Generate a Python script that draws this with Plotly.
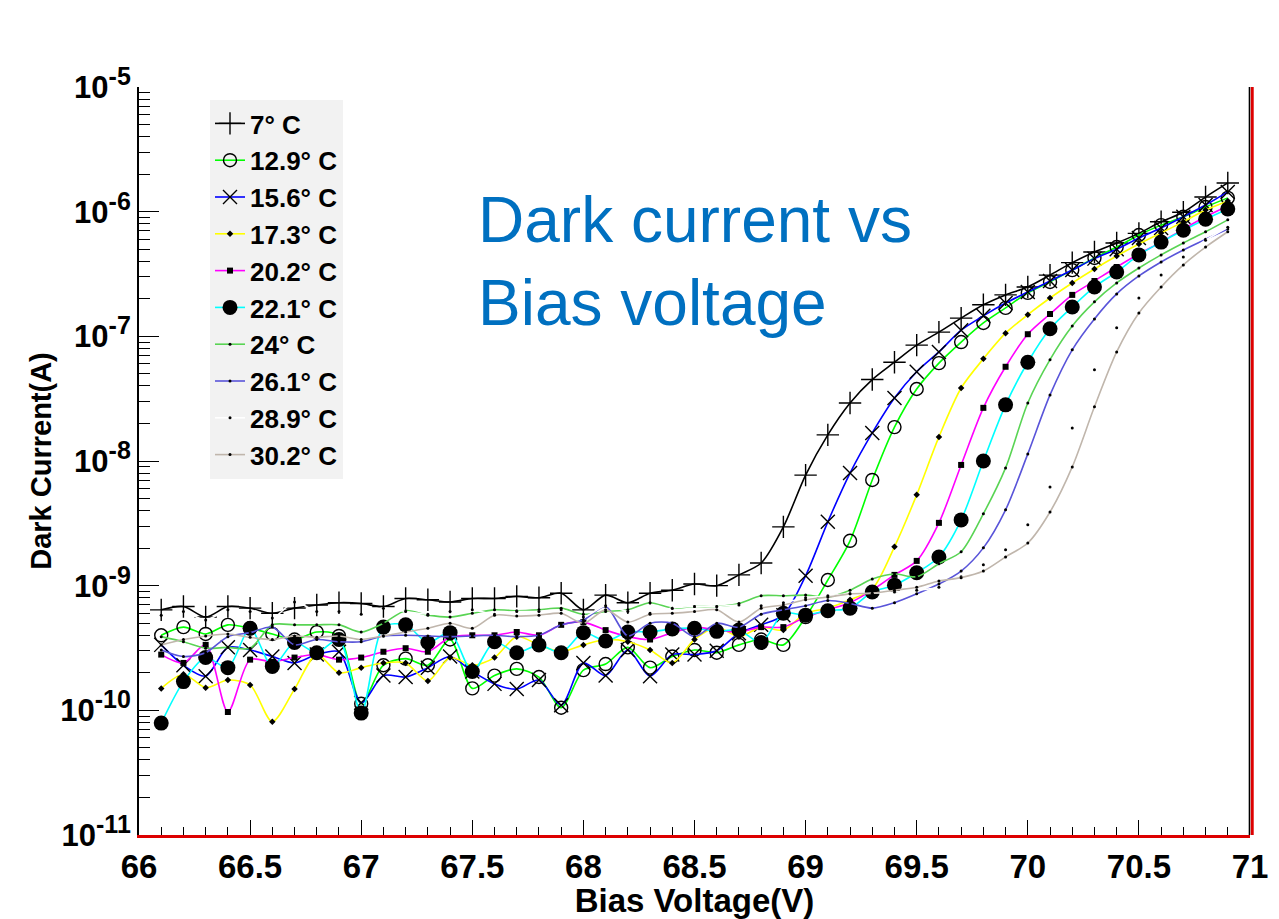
import plotly.graph_objects as go

voltage = [round(66.1 + 0.1 * i, 1) for i in range(49)]

labels = ["7° C", "12.9° C", "15.6° C", "17.3° C", "20.2° C",
          "22.1° C", "24° C", "26.1° C", "28.9° C", "30.2° C"]

i_7_0 = [6.4e-10, 6.8e-10, 5.6e-10, 6.8e-10, 6.6e-10, 6.0e-10, 6.6e-10, 7.0e-10, 7.3e-10, 7.2e-10,
         6.8e-10, 7.9e-10, 7.7e-10, 7.4e-10, 7.9e-10, 7.9e-10, 8.2e-10, 8.0e-10, 8.7e-10, 6.4e-10,
         8.4e-10, 7.3e-10, 8.7e-10, 9.2e-10, 1.03e-9, 1.0e-9, 1.22e-9, 1.52e-9, 2.96e-9, 7.7e-9,
         1.62e-8, 2.92e-8, 4.5e-8, 6.2e-8, 8.5e-8, 1.08e-7, 1.40e-7, 1.79e-7, 2.15e-7, 2.49e-7,
         3.1e-7, 3.9e-7, 4.75e-7, 5.6e-7, 6.7e-7, 8.3e-7, 9.9e-7, 1.31e-6, 1.70e-6]

i_12_9 = [4.0e-10, 4.65e-10, 4.1e-10, 4.85e-10, 4.55e-10, 4.1e-10, 3.7e-10, 4.25e-10, 3.95e-10, 1.13e-10,
          2.3e-10, 2.6e-10, 2.3e-10, 3.7e-10, 1.5e-10, 1.9e-10, 2.15e-10, 1.85e-10, 1.05e-10, 2.1e-10,
          2.35e-10, 3.2e-10, 2.2e-10, 2.7e-10, 3.05e-10, 2.9e-10, 3.35e-10, 3.7e-10, 3.35e-10, 5.6e-10,
          1.11e-9, 2.29e-9, 7.05e-9, 1.87e-8, 3.78e-8, 6.1e-8, 9.0e-8, 1.28e-7, 1.69e-7, 2.23e-7,
          2.73e-7, 3.4e-7, 4.25e-7, 5.2e-7, 6.5e-7, 7.8e-7, 9.1e-7, 1.09e-6, 1.29e-6]

i_15_6 = [3.35e-10, 2.3e-10, 1.88e-10, 3.2e-10, 3.05e-10, 2.7e-10, 2.4e-10, 2.8e-10, 2.95e-10, 1.15e-10,
          1.9e-10, 1.85e-10, 2.2e-10, 2.7e-10, 2.05e-10, 1.63e-10, 1.48e-10, 1.75e-10, 1.1e-10, 2.4e-10,
          1.9e-10, 3.05e-10, 1.88e-10, 2.8e-10, 2.8e-10, 3.0e-10, 4.15e-10, 4.85e-10, 5.8e-10, 1.2e-9,
          3.25e-9, 8.0e-9, 1.68e-8, 3.2e-8, 5.2e-8, 7.5e-8, 1.12e-7, 1.46e-7, 1.85e-7, 2.27e-7,
          2.78e-7, 3.4e-7, 4.2e-7, 5.0e-7, 6.15e-7, 7.4e-7, 9.1e-7, 1.13e-6, 1.44e-6]

i_17_3 = [1.5e-10, 1.95e-10, 1.52e-10, 1.75e-10, 1.6e-10, 8.1e-11, 1.48e-10, 2.8e-10, 2.0e-10, 2.2e-10,
          2.4e-10, 2.4e-10, 1.72e-10, 2.65e-10, 2.3e-10, 2.65e-10, 3.9e-10, 3.35e-10, 2.95e-10, 3.35e-10,
          3.7e-10, 3.55e-10, 3.05e-10, 2.4e-10, 3.7e-10, 4.65e-10, 3.9e-10, 4.65e-10, 4.4e-10, 6.0e-10,
          6.6e-10, 7.7e-10, 9.4e-10, 2.05e-9, 5.35e-9, 1.56e-8, 3.85e-8, 6.6e-8, 1.06e-7, 1.49e-7,
          2.03e-7, 2.68e-7, 3.47e-7, 4.41e-7, 5.5e-7, 6.75e-7, 8.3e-7, 1.03e-6, 1.22e-6]

i_20_2 = [2.8e-10, 2.4e-10, 3.35e-10, 9.7e-11, 2.55e-10, 2.45e-10, 2.65e-10, 2.8e-10, 2.55e-10, 2.65e-10,
          2.95e-10, 3.15e-10, 2.95e-10, 3.85e-10, 4.0e-10, 4.0e-10, 4.25e-10, 4.0e-10, 4.85e-10, 5.1e-10,
          4.4e-10, 3.9e-10, 3.7e-10, 4.2e-10, 4.65e-10, 4.4e-10, 4.25e-10, 4.65e-10, 4.65e-10, 5.6e-10,
          6.4e-10, 7.3e-10, 9.2e-10, 1.22e-9, 1.58e-9, 3.19e-9, 9.3e-9, 2.67e-8, 5.7e-8, 1.04e-7,
          1.51e-7, 2.15e-7, 2.78e-7, 3.6e-7, 4.58e-7, 5.7e-7, 7.25e-7, 9.1e-7, 1.11e-6]

i_22_1 = [7.9e-11, 1.7e-10, 2.65e-10, 2.2e-10, 4.55e-10, 2.25e-10, 3.5e-10, 2.9e-10, 3.7e-10, 9.5e-11,
          4.65e-10, 4.85e-10, 3.5e-10, 4.2e-10, 2.05e-10, 3.55e-10, 2.9e-10, 3.35e-10, 2.9e-10, 4.2e-10,
          3.6e-10, 4.25e-10, 4.25e-10, 4.5e-10, 4.55e-10, 4.3e-10, 4.4e-10, 3.5e-10, 6.0e-10, 5.8e-10,
          6.3e-10, 6.6e-10, 8.9e-10, 1.01e-9, 1.27e-9, 1.70e-9, 3.37e-9, 1.0e-8, 2.82e-8, 6.2e-8,
          1.15e-7, 1.72e-7, 2.49e-7, 3.28e-7, 4.5e-7, 5.7e-7, 7.1e-7, 8.7e-7, 1.05e-6]

i_24_0 = [3.9e-10, 3.55e-10, 3.15e-10, 3.2e-10, 3.15e-10, 4.85e-10, 4.85e-10, 4.85e-10, 4.85e-10, 4.25e-10,
          5.0e-10, 6.3e-10, 5.8e-10, 5.6e-10, 6.0e-10, 6.4e-10, 6.3e-10, 6.4e-10, 6.6e-10, 5.9e-10,
          6.2e-10, 6.4e-10, 7.3e-10, 6.6e-10, 6.8e-10, 6.8e-10, 7.2e-10, 8.3e-10, 8.3e-10, 8.4e-10,
          8.1e-10, 9.2e-10, 1.13e-9, 1.24e-9, 1.18e-9, 1.50e-9, 1.87e-9, 3.77e-9, 8.8e-9, 2.92e-8,
          6.5e-8, 1.21e-7, 1.89e-7, 2.68e-7, 3.53e-7, 4.5e-7, 5.6e-7, 6.9e-7, 8.6e-7]

i_26_1 = [3.05e-10, 2.7e-10, 2.9e-10, 3.9e-10, 4.2e-10, 4.65e-10, 3.35e-10, 3.7e-10, 3.55e-10, 3.55e-10,
          3.95e-10, 4.0e-10, 3.95e-10, 3.9e-10, 3.95e-10, 4.0e-10, 3.9e-10, 4.0e-10, 4.85e-10, 5.3e-10,
          6.8e-10, 3.95e-10, 5.0e-10, 5.0e-10, 3.9e-10, 5.0e-10, 4.65e-10, 5.9e-10, 6.4e-10, 6.9e-10,
          7.6e-10, 7.2e-10, 6.6e-10, 7.3e-10, 8.6e-10, 1.03e-9, 1.31e-9, 2.01e-9, 4.06e-9, 1.14e-8,
          3.39e-8, 7.8e-8, 1.38e-7, 2.19e-7, 3.05e-7, 3.95e-7, 4.93e-7, 6.0e-7, 7.25e-7]

i_28_9 = [5.8e-10, 6.2e-10, 5.3e-10, 6.4e-10, 6.2e-10, 5.5e-10, 7.4e-10, 6.2e-10, 6.2e-10, 5.9e-10,
          6.6e-10, 6.2e-10, 5.9e-10, 6.2e-10, 6.4e-10, 5.9e-10, 6.2e-10, 6.2e-10, 6.4e-10, 5.6e-10,
          6.9e-10, 6.2e-10, 6.0e-10, 6.6e-10, 6.8e-10, 6.8e-10, 7.0e-10, 6.9e-10, 7.3e-10, 8.0e-10,
          8.3e-10, 8.6e-10, 8.7e-10, 8.9e-10, 9.2e-10, 9.7e-10, 1.18e-9, 1.47e-9, 1.94e-9, 3.08e-9,
          6.2e-9, 1.84e-8, 5.4e-8, 1.17e-7, 2.03e-7, 3.1e-7, 4.33e-7, 5.9e-7, 7.5e-7]

i_30_2 = [3.35e-10, 3.7e-10, 3.95e-10, 4.1e-10, 3.85e-10, 3.7e-10, 3.95e-10, 3.85e-10, 3.95e-10, 3.7e-10,
          3.95e-10, 4.25e-10, 4.55e-10, 5.0e-10, 4.55e-10, 5.8e-10, 5.7e-10, 5.8e-10, 6.0e-10, 5.0e-10,
          6.4e-10, 5.1e-10, 5.9e-10, 6.0e-10, 6.2e-10, 6.4e-10, 5.1e-10, 6.6e-10, 7.0e-10, 7.7e-10,
          8.1e-10, 8.6e-10, 8.7e-10, 9.2e-10, 9.7e-10, 1.09e-9, 1.16e-9, 1.31e-9, 1.70e-9, 2.2e-9,
          3.9e-9, 8.97e-9, 2.72e-8, 7.5e-8, 1.54e-7, 2.49e-7, 3.74e-7, 5.2e-7, 6.9e-7]

series = [i_7_0, i_12_9, i_15_6, i_17_3, i_20_2, i_22_1, i_24_0, i_26_1, i_28_9, i_30_2]

line_colors = ["#000000", "#00ff00", "#0000ff", "#ffff00", "#ff00ff",
               "#00ffff", "#59d454", "#5954d9", "#ffffff", "#c0b6ac"]
marker_symbols = ["cross-thin-open", "circle-open", "x-thin-open", "diamond", "square",
                  "circle", "circle", "circle", "circle", "circle"]
marker_sizes = [16, 13, 14, 5, 6, 15, 3, 3, 3, 3]

y_tick_vals = [1e-11, 1e-10, 1e-9, 1e-8, 1e-7, 1e-6, 1e-5]
y_exponents = ["-11", "-10", "-9", "-8", "-7", "-6", "-5"]
y_tick_text = ["10<sup><span style='font-size:25px'>%s</span></sup>" % e for e in y_exponents]
y_minor_vals = [m * d for d in [1e-11, 1e-10, 1e-9, 1e-8, 1e-7, 1e-6] for m in range(2, 10)]
x_tick_vals = [66, 66.5, 67, 67.5, 68, 68.5, 69, 69.5, 70, 70.5, 71]
x_tick_text = ["66", "66.5", "67", "67.5", "68", "68.5", "69", "69.5", "70", "70.5", "71"]

fig = go.Figure()
for k in range(len(series)):
    sym = marker_symbols[k]
    is_open = sym.endswith("open")
    fig.add_trace(go.Scatter(
        x=voltage, y=series[k], name=labels[k], legendgroup=labels[k],
        mode="lines+markers",
        line=dict(color=line_colors[k], width=1.6, shape="spline", smoothing=0.8),
        marker=dict(symbol=sym, size=marker_sizes[k], color="#000000",
                    line=dict(color="#000000", width=1.4 if is_open else 0)),
    ))

bold = "Liberation Sans, Arial, sans-serif"

# page body has an 8px margin; figure is sized to fit the 1279x919 window
W, H = 1271, 911
L, T = 131, 79
PW, PH = 1111, 748

fig.update_layout(
    width=W, height=H,
    margin=dict(l=L, r=W - L - PW, t=T, b=H - T - PH, autoexpand=False),
    paper_bgcolor="white", plot_bgcolor="white",
    showlegend=True,
    legend=dict(x=(210 - 139) / PW, y=1 - (100 - 87) / PH, xanchor="left", yanchor="top",
                bgcolor="#f2f2f2", borderwidth=0, itemwidth=30,
                tracegroupgap=0,
                font=dict(family=bold, size=26, color="black", weight="bold")),
    xaxis=dict(range=[66, 71], tickmode="array", tickvals=x_tick_vals, ticktext=x_tick_text,
               ticks="inside", ticklen=15, tickwidth=1.2, tickcolor="black",
               minor=dict(dtick=0.1, tick0=66, ticks="inside", ticklen=8, tickcolor="black", tickwidth=1.2),
               showgrid=False, zeroline=False, showline=True, linecolor="#dd0000", linewidth=3,
               tickfont=dict(family=bold, size=33, color="black", weight="bold"),
               title=dict(text="Bias Voltage(V)", standoff=0,
                          font=dict(family=bold, size=33, color="black", weight="bold"))),
    yaxis=dict(type="log", range=[-11, -5], tickmode="array", tickvals=y_tick_vals, ticktext=y_tick_text,
               ticks="inside", ticklen=20, tickwidth=1.2, tickcolor="black",
               minor=dict(tickmode="array", tickvals=y_minor_vals, ticks="inside", ticklen=11,
                          tickcolor="black", tickwidth=1.2),
               showgrid=False, zeroline=False, showline=True, linecolor="black", linewidth=2,
               tickfont=dict(family=bold, size=31, color="black", weight="bold"),
               title=dict(text="Dark Current(A)", standoff=0,
                          font=dict(family=bold, size=29, color="black", weight="bold"))),
    shapes=[
        dict(type="line", xref="paper", yref="paper", x0=1.002, x1=1.002, y0=0, y1=1,
             line=dict(color="#dd0000", width=3)),
        dict(type="line", xref="paper", yref="paper", x0=0.9995, x1=0.9995, y0=0, y1=1,
             line=dict(color="black", width=1.5)),
    ],
    annotations=[
        dict(text="Dark current vs<br>Bias voltage", xref="paper", yref="paper",
             x=(476 - 139) / PW, y=1 - (182 - 87) / PH, xanchor="left", yanchor="top",
             showarrow=False, align="left",
             font=dict(family="Liberation Sans, Arial, sans-serif", size=64, color="#0070c0")),
    ],
)

fig.write_html("out.html")
